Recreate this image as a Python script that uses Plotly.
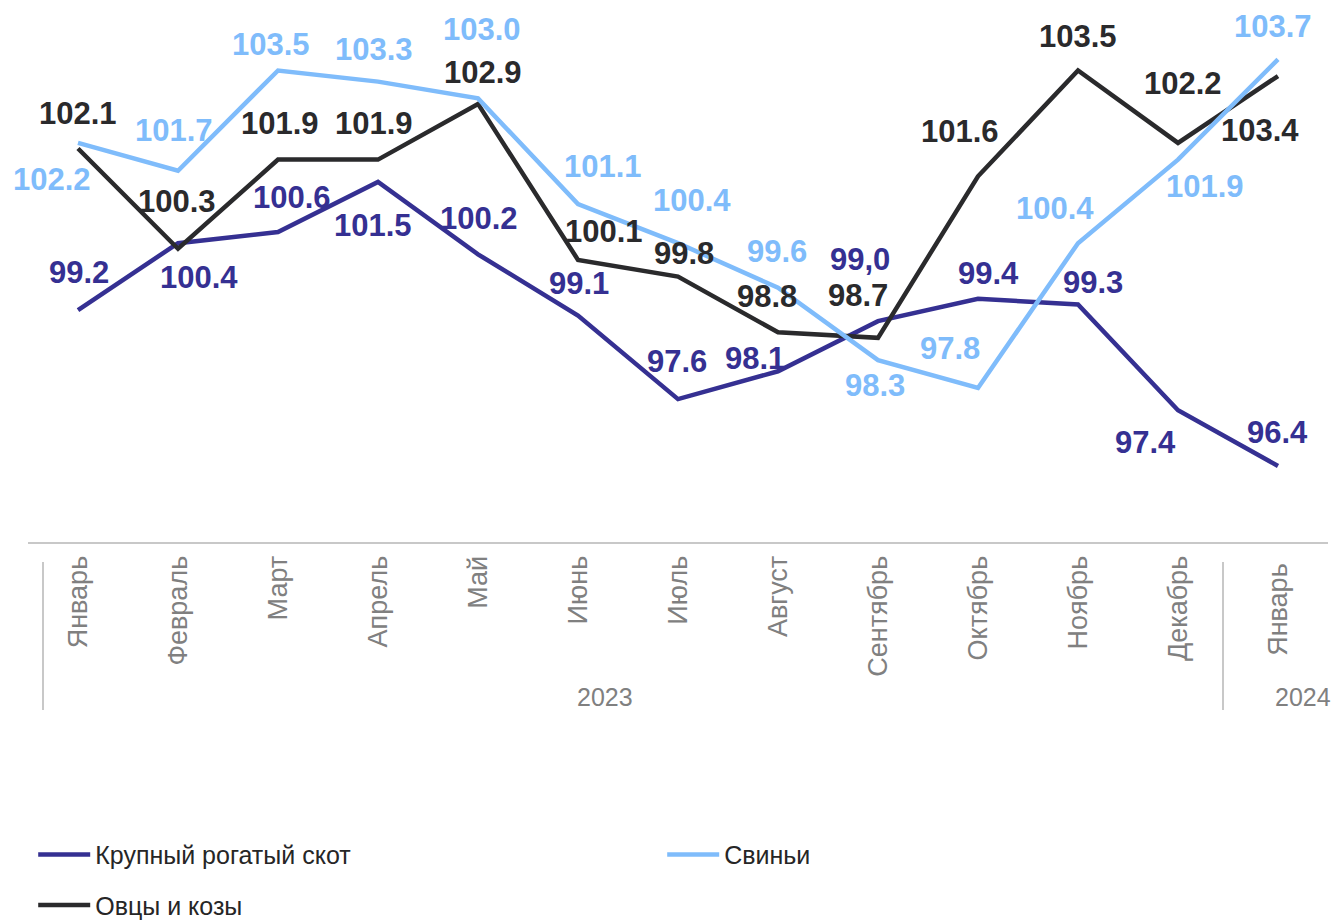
import plotly.graph_objects as go

months = ["Январь", "Февраль", "Март", "Апрель", "Май", "Июнь", "Июль",
          "Август", "Сентябрь", "Октябрь", "Ноябрь", "Декабрь", "Январь "]
years = ["2023", "2024"]

krs = [99.2, 100.4, 100.6, 101.5, 100.2, 99.1, 97.6, 98.1, 99.0, 99.4, 99.3, 97.4, 96.4]
pigs = [102.2, 101.7, 103.5, 103.3, 103.0, 101.1, 100.4, 99.6, 98.3, 97.8, 100.4, 101.9, 103.7]
sheep = [102.1, 100.3, 101.9, 101.9, 102.9, 100.1, 99.8, 98.8, 98.7, 101.6, 103.5, 102.2, 103.4]

names = ["Крупный рогатый скот", "Свиньи", "Овцы и козы"]

C_KRS = "#353092"
C_PIG = "#7fbcfb"
C_SHEEP = "#2a2a2c"

def fmt(vals):
    return [f"{v:.1f}" for v in vals]

krs_txt = fmt(krs)
krs_txt[8] = krs_txt[8].replace(".", ",")
pig_txt = fmt(pigs)
sheep_txt = fmt(sheep)

# label offsets (px) relative to each point
krs_off = [(1, 38), (21, -34), (14, 35), (-5, -44), (1, 36), (1, 32), (-1, 38),
           (-23, 13), (-18, 62), (10, 25), (15, 22), (-33, -32), (-1, 33)]
pig_off = [(-26, -37), (-4, 40), (-7, 26), (-4, 32), (4, 69), (25, 38), (14, 43),
           (-1, 36), (-3, -25), (-28, 39), (-23, 35), (27, -27), (-5, 33)]
sheep_off = [(0, 35), (-1, 47), (2, 36), (-4, 36), (5, 31), (26, 28), (6, 23),
             (-11, 36), (-20, 42), (-18, 45), (0, 34), (5, 59), (-18, -54)]

x = list(range(len(months)))

fig = go.Figure()
fig.add_trace(go.Scatter(x=x, y=krs, mode="lines", name=names[0],
                         line=dict(color=C_KRS, width=4.5), legend="legend"))
fig.add_trace(go.Scatter(x=x, y=sheep, mode="lines", name=names[2],
                         line=dict(color=C_SHEEP, width=4.5), legend="legend2"))
fig.add_trace(go.Scatter(x=x, y=pigs, mode="lines", name=names[1],
                         line=dict(color=C_PIG, width=4.5), legend="legend"))

FONT = "Liberation Sans, Arial"
annotations = []
for vals, txts, offs, col in [(krs, krs_txt, krs_off, C_KRS),
                              (pigs, pig_txt, pig_off, C_PIG),
                              (sheep, sheep_txt, sheep_off, C_SHEEP)]:
    for i, (v, t, (dx, dy)) in enumerate(zip(vals, txts, offs)):
        annotations.append(dict(x=i, y=v, xref="x", yref="y", text=t, showarrow=False,
                                xshift=dx, yshift=dy,
                                font=dict(family=FONT, size=31, color=col, weight="bold")))

for yr, yx in zip(years, [5.27, 12.25]):
    annotations.append(dict(x=yx, y=-0.2916, xref="x", yref="paper", text=yr,
                            showarrow=False, yanchor="middle",
                            font=dict(family=FONT, size=25, color="#808080")))

shapes = []
for sx in [-0.35, 11.45]:
    shapes.append(dict(type="line", xref="x", yref="paper", x0=sx, x1=sx,
                       y0=-0.0376, y1=-0.3158, line=dict(color="#c8c8c8", width=2)))

fig.update_layout(
    width=1343, height=922,
    margin=dict(l=28, r=15, t=10, b=380, autoexpand=False),
    paper_bgcolor="white", plot_bgcolor="white",
    showlegend=True,
    xaxis=dict(range=[-0.5, 12.5], tickmode="array", tickvals=x, ticktext=months,
               tickangle=-90, showgrid=False, zeroline=False, showline=True,
               linecolor="#c8c8c8", linewidth=2, ticks="", ticklabelstandoff=1,
               automargin=False,
               tickfont=dict(family=FONT, size=27, color="#808080")),
    yaxis=dict(range=[95.035, 104.586], visible=False, showgrid=False, zeroline=False,
               automargin=False),
    legend=dict(orientation="h", x=0.004, xanchor="left", y=-0.5878, yanchor="middle",
                entrywidth=562, entrywidthmode="pixels", itemwidth=52,
                font=dict(family=FONT, size=25, color="#262626"),
                bgcolor="rgba(0,0,0,0)"),
    legend2=dict(orientation="h", x=0.004, xanchor="left", y=-0.683, yanchor="middle",
                 itemwidth=52,
                 font=dict(family=FONT, size=25, color="#262626"),
                 bgcolor="rgba(0,0,0,0)"),
    annotations=annotations,
    shapes=shapes,
)

fig.write_html("out.html", config={"displayModeBar": False},
               post_script="document.body.style.margin='0px';document.body.style.overflow='hidden';")
